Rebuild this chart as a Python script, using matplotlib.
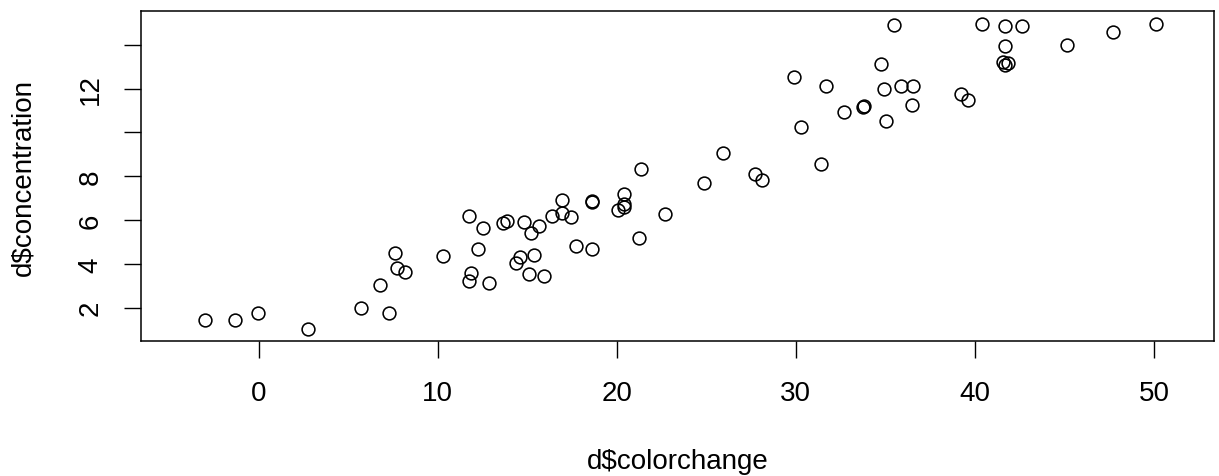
import matplotlib
matplotlib.use("Agg")
import matplotlib.pyplot as plt

# valores
colorchange = [
    -3.0, -1.3, -0.05, 2.75, 5.7, 7.3, 6.8, 7.6, 7.75, 8.2, 10.3,
    11.75, 12.55, 13.65, 13.85, 14.85, 15.65, 15.2, 16.95, 16.4, 16.95, 17.45,
    18.6, 18.6, 12.25, 17.7, 18.6, 15.4, 14.6, 14.35, 11.85, 11.75, 12.85,
    15.1, 15.95,
    21.35, 20.4, 20.4, 20.4, 20.05, 22.7, 21.25, 24.85, 25.95, 27.7, 28.1, 31.4,
    35.5, 40.4, 29.9, 31.7, 34.75, 34.95, 35.9, 36.55, 32.7, 33.75, 33.8,
    36.5, 35.05, 30.3, 39.2, 39.6,
    41.7, 42.65, 41.7, 41.55, 41.85, 41.7, 45.15, 47.7, 50.1,
]
concentration = [
    1.43, 1.43, 1.76, 1.03, 1.99, 1.76, 3.04, 4.5, 3.8, 3.64, 4.35,
    6.2, 5.64, 5.87, 5.97, 5.9, 5.74, 5.4, 6.93, 6.2, 6.31, 6.13,
    6.84, 6.86, 4.68, 4.83, 4.68, 4.42, 4.3, 4.03, 3.57, 3.23, 3.13,
    3.54, 3.46,
    8.32, 7.19, 6.74, 6.6, 6.46, 6.29, 5.17, 7.68, 9.06, 8.11, 7.84, 8.58,
    14.91, 14.97, 12.55, 12.14, 13.11, 11.99, 12.14, 12.14, 10.92, 11.18, 11.19,
    11.24, 10.51, 10.27, 11.74, 11.5,
    14.88, 14.88, 13.96, 13.22, 13.17, 13.08, 14.01, 14.57, 14.97,
]

xticks = [0, 10, 20, 30, 40, 50]
yticks = [2, 4, 6, 8, 10, 12, 14]
ytick_labels = ["2", "4", "6", "8", "", "12", ""]

plt.rcParams["font.family"] = ["Liberation Sans", "DejaVu Sans"]

fig = plt.figure(figsize=(12.19, 4.77), dpi=100)
ax = fig.add_axes([0.1159, 0.283, 0.8802, 0.6913])

ax.plot(colorchange, concentration, "o", markersize=9.2, markerfacecolor="none",
        markeredgecolor="black", markeredgewidth=1.15)

ax.set_xlim(-6.55, 53.37)
ax.set_ylim(0.48, 15.53)

ax.set_xticks(xticks)
ax.set_xticklabels([str(t) for t in xticks])
ax.set_yticks(yticks)
ax.set_yticklabels(ytick_labels, rotation=90, va="center")

ax.tick_params(axis="both", direction="out", length=12, width=1.0,
               labelsize=20, colors="black")
ax.tick_params(axis="x", pad=16)
ax.tick_params(axis="y", pad=15)

for s in ax.spines.values():
    s.set_linewidth(1.1)
    s.set_color("black")

ax.set_xlabel("d$colorchange", fontsize=20, labelpad=30)
ax.set_ylabel("d$concentration", fontsize=20, labelpad=30)

fig.savefig("out.png", dpi=100)
